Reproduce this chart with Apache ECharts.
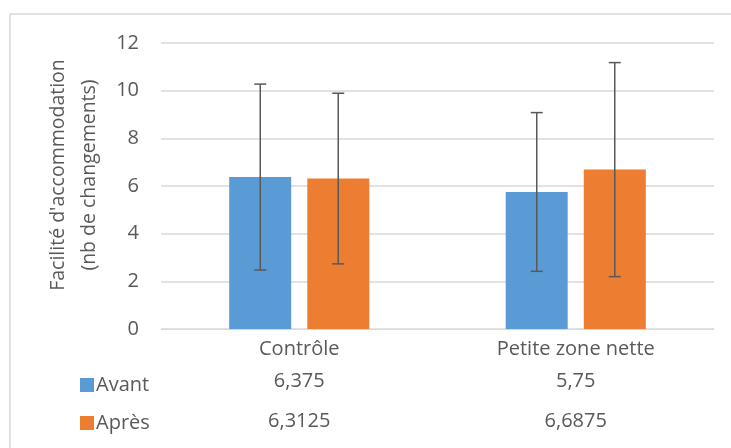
<!DOCTYPE html>
<html>
<head>
<meta charset="utf-8">
<script src="https://cdn.jsdelivr.net/npm/echarts@6/dist/echarts.min.js"></script>
<style>
html,body{margin:0;padding:0;background:#fff;}
#c{width:731px;height:448px;}
</style>
</head>
<body>
<div id="c"></div>
<script>
const categories = ['Contrôle', 'Petite zone nette'];
const seriesNames = ['Avant', 'Après'];
const avant = [6.375, 5.75];
const apres = [6.3125, 6.6875];
const avantErr = [3.9, 3.33];
const apresErr = [3.58, 4.49];
const yTicks = [0, 2, 4, 6, 8, 10, 12];

const colors = ['#5b9bd5', '#ed7d31'];
const textColor = '#595959';
const font = '"Open Sans", sans-serif';

function fr(v) { return String(v).replace('.', ','); }

const chart = echarts.init(document.getElementById('c'));

function errSeries(vals, errs, offset) {
  return {
    type: 'custom',
    z: 10,
    data: vals.map((v, i) => [i, v - errs[i], v + errs[i]]),
    renderItem: function (params, api) {
      const lo = api.coord([api.value(0), api.value(1)]);
      const hi = api.coord([api.value(0), api.value(2)]);
      const x = lo[0] + offset;
      const cw = 6;
      const st = { stroke: '#595959', lineWidth: 1.5 };
      return {
        type: 'group',
        children: [
          { type: 'line', shape: { x1: x, y1: lo[1], x2: x, y2: hi[1] }, style: st },
          { type: 'line', shape: { x1: x - cw, y1: lo[1], x2: x + cw, y2: lo[1] }, style: st },
          { type: 'line', shape: { x1: x - cw, y1: hi[1], x2: x + cw, y2: hi[1] }, style: st }
        ]
      };
    }
  };
}

chart.setOption({
  animation: false,
  backgroundColor: '#fff',
  textStyle: { fontFamily: font },
  graphic: [
    { type: 'rect', shape: { x: 10, y: 14, width: 740, height: 460 },
      style: { fill: 'none', stroke: '#d9d9d9', lineWidth: 1.5 }, z: -10 }
  ],
  legend: {
    orient: 'vertical',
    left: 75,
    top: 370,
    itemGap: 18,
    itemWidth: 14,
    itemHeight: 14,
    icon: 'rect',
    data: seriesNames,
    textStyle: { color: textColor, fontSize: 20, fontFamily: font, padding: [0, 0, 0, -3] }
  },
  grid: { left: 161, right: 17, top: 43, bottom: 119 },
  xAxis: [
    {
      type: 'category', data: categories, position: 'bottom',
      axisLine: { show: true, lineStyle: { color: '#d9d9d9' } },
      axisTick: { show: false },
      axisLabel: { color: textColor, fontSize: 20, margin: 10 }
    },
    {
      type: 'category', data: avant.map(fr), position: 'bottom', offset: 33,
      axisLine: { show: false }, axisTick: { show: false },
      axisLabel: { color: textColor, fontSize: 20, margin: 9 }
    },
    {
      type: 'category', data: apres.map(fr), position: 'bottom', offset: 73,
      axisLine: { show: false }, axisTick: { show: false },
      axisLabel: { color: textColor, fontSize: 20, margin: 9 }
    }
  ],
  yAxis: {
    type: 'value', min: 0, max: 12, interval: 2,
    axisLine: { show: false }, axisTick: { show: false },
    axisLabel: { color: textColor, fontSize: 20, margin: 22,
      formatter: v => yTicks.includes(v) ? String(v) : '' },
    splitLine: { lineStyle: { color: '#d9d9d9', width: 1.5 } },
    name: "Facilité d'accommodation\n(nb de changements)",
    nameLocation: 'middle',
    nameGap: 50,
    nameRotate: 90,
    nameTextStyle: { color: textColor, fontSize: 19.5, lineHeight: 31, padding: [0, 0, 0, 22] }
  },
  series: [
    { name: seriesNames[0], type: 'bar', data: avant, barWidth: 62, barGap: '26%',
      itemStyle: { color: colors[0] } },
    { name: seriesNames[1], type: 'bar', data: apres, barWidth: 62,
      itemStyle: { color: colors[1] } },
    errSeries(avant, avantErr, -39),
    errSeries(apres, apresErr, 39)
  ]
});
</script>
</body>
</html>
